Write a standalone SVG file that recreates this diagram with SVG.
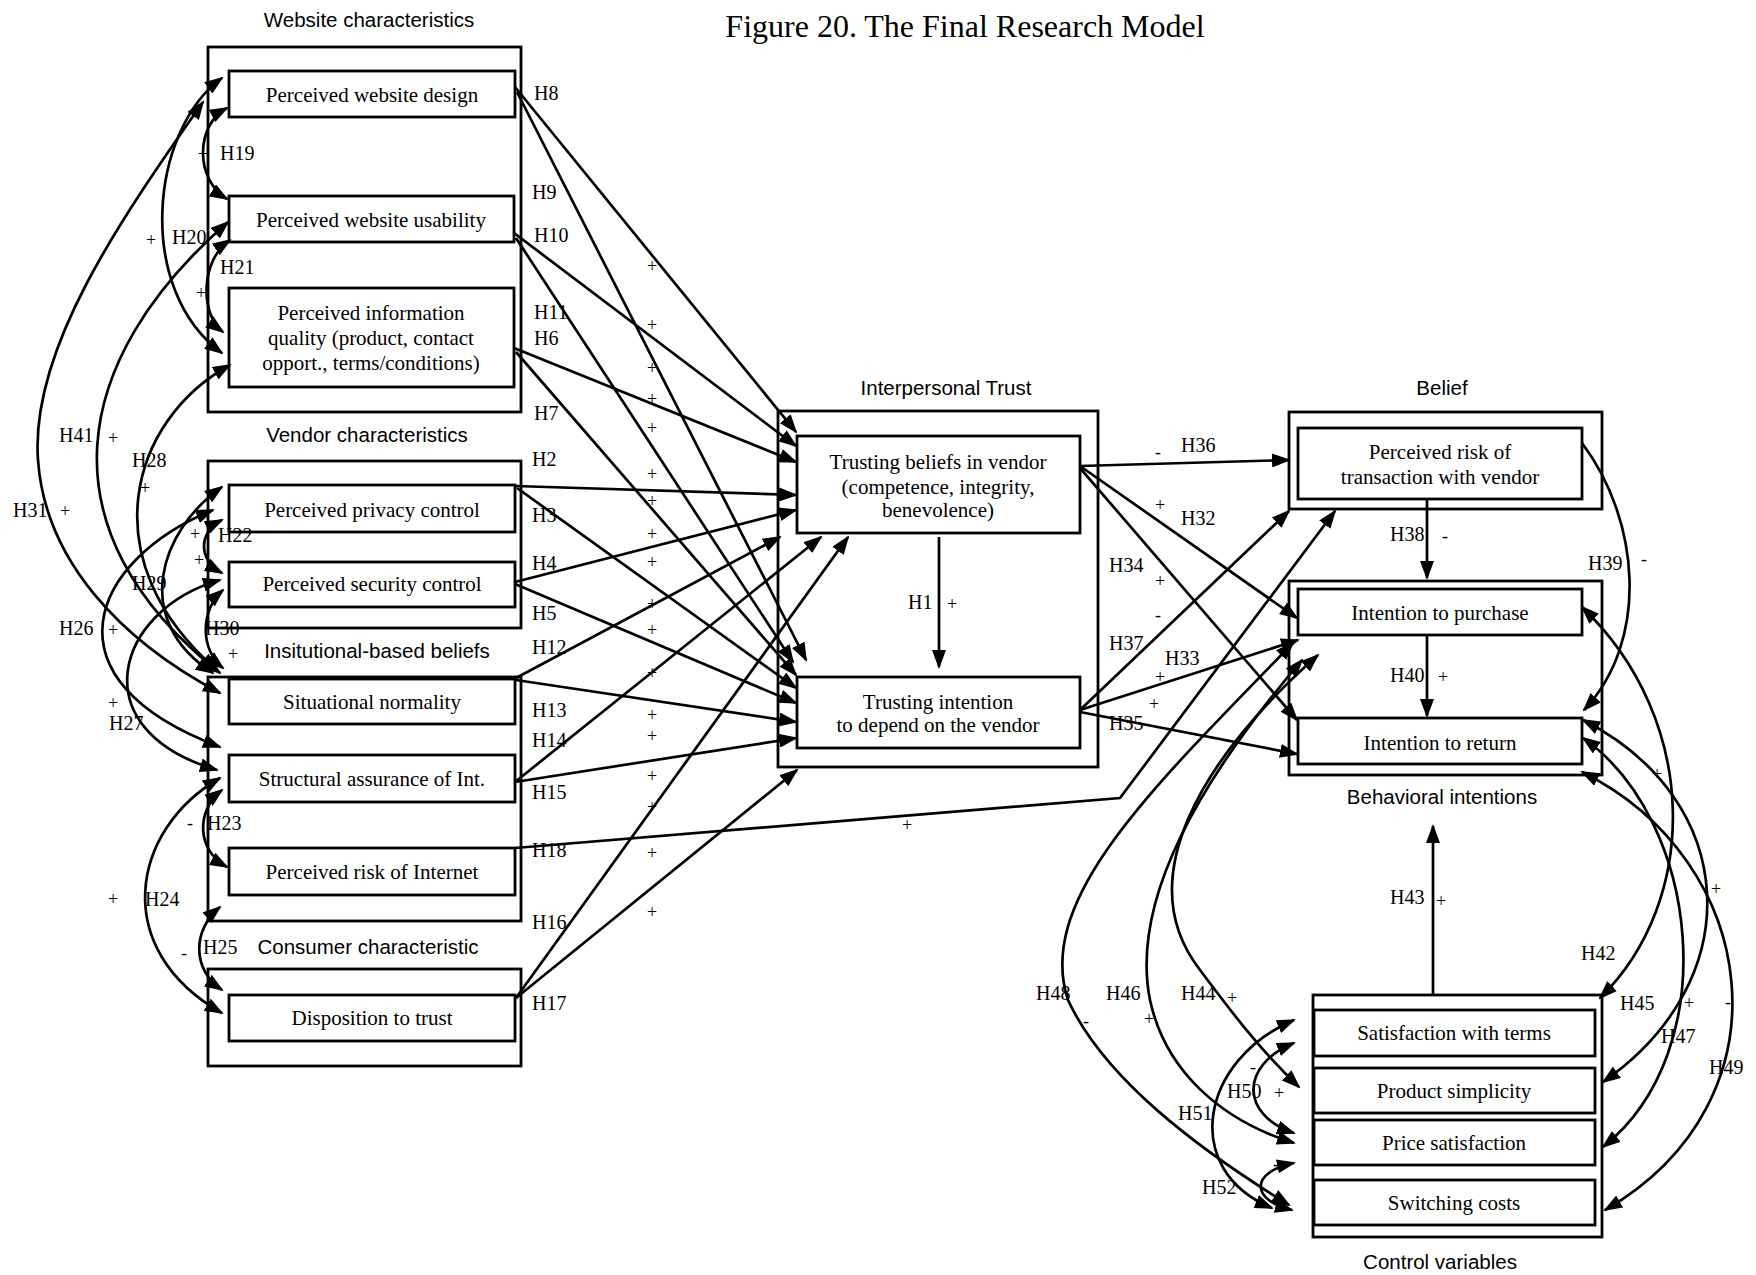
<svg xmlns="http://www.w3.org/2000/svg" width="1756" height="1275" viewBox="0 0 1756 1275">
  <style>
    .frame { fill: none; stroke: #000; stroke-width: 2.8; }
    .box { fill: none; stroke: #000; stroke-width: 2.8; }
    .nt { font-family: "Liberation Serif", "Times New Roman", serif; font-size: 21px; fill: #000; text-anchor: middle; }
    .sec { font-family: "Liberation Sans", Arial, sans-serif; font-size: 20.5px; fill: #000; text-anchor: middle; }
    .lb { font-family: "Liberation Serif", "Times New Roman", serif; font-size: 20px; fill: #000; }
    .sg { font-family: "Liberation Serif", "Times New Roman", serif; font-size: 18px; fill: #000; text-anchor: middle; }
    .ln { fill: none; stroke: #000; stroke-width: 2.7; marker-end: url(#ah); }
    .bi { fill: none; stroke: #000; stroke-width: 2.7; marker-start: url(#ah); marker-end: url(#ah); }
    .title { font-family: "Liberation Serif", "Times New Roman", serif; font-size: 32px; fill: #000; text-anchor: middle; }
  </style>
  <defs>
    <marker id="ah" viewBox="0 0 19 14" refX="17" refY="7" markerWidth="19" markerHeight="14" markerUnits="userSpaceOnUse" orient="auto-start-reverse">
      <path d="M0,0 L19,7 L0,14 z" fill="#000"/>
    </marker>
  </defs>
  <rect width="1756" height="1275" fill="#fff"/>

  <text class="title" x="965" y="37">Figure 20. The Final Research Model</text>

  <!-- group frames and their captions -->
  <g id="website-characteristics">
    <text class="sec" x="369" y="27">Website characteristics</text>
    <rect class="frame" x="208" y="47" width="313" height="365"/>
  </g>
  <g id="vendor-characteristics">
    <text class="sec" x="367" y="442">Vendor characteristics</text>
    <rect class="frame" x="208" y="461" width="313" height="167"/>
  </g>
  <g id="institutional-beliefs">
    <text class="sec" x="377" y="658">Insitutional-based beliefs</text>
    <rect class="frame" x="208" y="677" width="313" height="244"/>
  </g>
  <g id="consumer-characteristic">
    <text class="sec" x="368" y="954">Consumer characteristic</text>
    <rect class="frame" x="208" y="969" width="313" height="97"/>
  </g>
  <g id="interpersonal-trust">
    <text class="sec" x="946" y="395">Interpersonal Trust</text>
    <rect class="frame" x="778" y="411" width="320" height="356"/>
  </g>
  <g id="belief">
    <text class="sec" x="1442" y="395">Belief</text>
    <rect class="frame" x="1289" y="412" width="313" height="97"/>
  </g>
  <g id="behavioral-intentions">
    <text class="sec" x="1442" y="804">Behavioral intentions</text>
    <rect class="frame" x="1289" y="581" width="313" height="194"/>
  </g>
  <g id="control-variables">
    <text class="sec" x="1440" y="1269">Control variables</text>
    <rect class="frame" x="1313" y="995" width="289" height="242"/>
  </g>

  <!-- constructs -->
  <g id="website-design">
    <rect class="box" x="229" y="71" width="286" height="46"/>
    <text class="nt" x="372" y="102">Perceived website design</text>
  </g>
  <g id="website-usability">
    <rect class="box" x="229" y="196" width="285" height="46"/>
    <text class="nt" x="371" y="227">Perceived website usability</text>
  </g>
  <g id="information-quality">
    <rect class="box" x="229" y="288" width="285" height="99"/>
    <text class="nt" x="371" y="320">Perceived information</text>
    <text class="nt" x="371" y="345">quality (product,  contact</text>
    <text class="nt" x="371" y="370">opport.,  terms/conditions)</text>
  </g>
  <g id="privacy-control">
    <rect class="box" x="229" y="485" width="286" height="47"/>
    <text class="nt" x="372" y="517">Perceived privacy control</text>
  </g>
  <g id="security-control">
    <rect class="box" x="229" y="562" width="286" height="45"/>
    <text class="nt" x="372" y="591">Perceived security control</text>
  </g>
  <g id="situational-normality">
    <rect class="box" x="229" y="679" width="286" height="45"/>
    <text class="nt" x="372" y="709">Situational normality</text>
  </g>
  <g id="structural-assurance">
    <rect class="box" x="229" y="755" width="286" height="47"/>
    <text class="nt" x="372" y="786">Structural assurance of Int.</text>
  </g>
  <g id="risk-internet">
    <rect class="box" x="229" y="848" width="286" height="47"/>
    <text class="nt" x="372" y="879">Perceived risk of Internet</text>
  </g>
  <g id="disposition-trust">
    <rect class="box" x="229" y="995" width="286" height="46"/>
    <text class="nt" x="372" y="1025">Disposition to trust</text>
  </g>
  <g id="trusting-beliefs">
    <rect class="box" x="797" y="436" width="283" height="97"/>
    <text class="nt" x="938" y="469">Trusting beliefs in vendor</text>
    <text class="nt" x="938" y="494">(competence, integrity,</text>
    <text class="nt" x="938" y="517">benevolence)</text>
  </g>
  <g id="trusting-intention">
    <rect class="box" x="797" y="677" width="283" height="71"/>
    <text class="nt" x="938" y="709">Trusting intention</text>
    <text class="nt" x="938" y="732">to depend on the vendor</text>
  </g>
  <g id="risk-transaction">
    <rect class="box" x="1298" y="428" width="284" height="71"/>
    <text class="nt" x="1440" y="459">Perceived risk of</text>
    <text class="nt" x="1440" y="484">transaction with vendor</text>
  </g>
  <g id="intention-purchase">
    <rect class="box" x="1298" y="589" width="284" height="46"/>
    <text class="nt" x="1440" y="620">Intention to purchase</text>
  </g>
  <g id="intention-return">
    <rect class="box" x="1298" y="718" width="284" height="46"/>
    <text class="nt" x="1440" y="750">Intention to return</text>
  </g>
  <g id="satisfaction-terms">
    <rect class="box" x="1314" y="1010" width="281" height="46"/>
    <text class="nt" x="1454" y="1040">Satisfaction with terms</text>
  </g>
  <g id="product-simplicity">
    <rect class="box" x="1314" y="1068" width="281" height="45"/>
    <text class="nt" x="1454" y="1098">Product simplicity</text>
  </g>
  <g id="price-satisfaction">
    <rect class="box" x="1314" y="1120" width="281" height="45"/>
    <text class="nt" x="1454" y="1150">Price satisfaction</text>
  </g>
  <g id="switching-costs">
    <rect class="box" x="1314" y="1180" width="281" height="45"/>
    <text class="nt" x="1454" y="1210">Switching costs</text>
  </g>

  <!-- paths between constructs -->
  <g id="connectors">
    <!-- antecedents to trusting beliefs / trusting intention -->
    <path class="ln" d="M515,87 L796,432"/>
    <path class="ln" d="M517,92 L806,660"/>
    <path class="ln" d="M514,233 L796,446"/>
    <path class="ln" d="M516,238 L793,662"/>
    <path class="ln" d="M514,348 L796,462"/>
    <path class="ln" d="M516,352 L796,675"/>
    <path class="ln" d="M515,486 L796,495"/>
    <path class="ln" d="M517,488 L796,688"/>
    <path class="ln" d="M515,582 L796,510"/>
    <path class="ln" d="M515,584 L796,703"/>
    <path class="ln" d="M516,678 L780,537"/>
    <path class="ln" d="M516,680 L796,722"/>
    <path class="ln" d="M515,782 L821,537"/>
    <path class="ln" d="M515,782 L796,738"/>
    <path class="ln" d="M516,998 L848,537"/>
    <path class="ln" d="M516,998 L797,770"/>
    <path class="ln" d="M515,848 L1120,798 L1335,511"/>
    <path class="ln" d="M939,537 L939,667"/>

    <!-- trust to belief and intentions -->
    <path class="ln" d="M1080,466 L1289,460"/>
    <path class="ln" d="M1080,466 L1297,618"/>
    <path class="ln" d="M1080,468 L1297,720"/>
    <path class="ln" d="M1080,710 L1289,511"/>
    <path class="ln" d="M1080,710 L1298,640"/>
    <path class="ln" d="M1080,712 L1297,754"/>
    <path class="ln" d="M1427,500 L1427,578"/>
    <path class="ln" d="M1427,636 L1427,716"/>
    <path class="ln" d="M1433,995 L1433,826"/>
    <path class="ln" d="M1582,443 C1640,520 1650,640 1584,710"/>

    <!-- correlations among antecedents -->
    <path class="bi" d="M227,108 C195,125 195,180 227,199"/>
    <path class="bi" d="M222,78 C150,130 135,290 222,353"/>
    <path class="bi" d="M230,240 C200,260 200,315 223,332"/>
    <path class="bi" d="M228,222 C70,360 40,530 220,673"/>
    <path class="bi" d="M203,102 C120,220 30,350 38,460 C45,560 120,640 220,693"/>
    <path class="bi" d="M230,365 C130,420 90,560 217,670"/>
    <path class="bi" d="M222,487 C160,530 130,620 213,673"/>
    <path class="bi" d="M213,510 C90,560 40,680 220,747"/>
    <path class="bi" d="M220,580 C115,610 80,730 217,770"/>
    <path class="bi" d="M222,520 C198,532 198,560 222,573"/>
    <path class="bi" d="M223,590 C200,610 200,650 223,668"/>
    <path class="bi" d="M222,790 C196,810 196,850 227,867"/>
    <path class="bi" d="M220,778 C130,830 110,950 222,1013"/>
    <path class="bi" d="M220,907 C192,930 192,970 222,990"/>

    <!-- control variables -->
    <path class="bi" d="M1582,607 C1700,720 1700,900 1600,998"/>
    <path class="bi" d="M1583,720 C1740,800 1750,980 1603,1082"/>
    <path class="bi" d="M1583,738 C1700,820 1725,1050 1603,1147"/>
    <path class="bi" d="M1582,772 C1760,860 1795,1100 1605,1210"/>
    <path class="bi" d="M1293,643 C1150,790 1035,900 1068,1000 C1105,1080 1200,1150 1289,1205"/>
    <path class="bi" d="M1302,660 C1200,780 1130,900 1150,1000 C1165,1070 1220,1120 1294,1143"/>
    <path class="bi" d="M1318,655 C1200,760 1130,880 1200,970 C1230,1010 1260,1050 1299,1087"/>
    <path class="bi" d="M1294,1043 C1240,1065 1240,1115 1294,1133"/>
    <path class="bi" d="M1294,1020 C1200,1060 1180,1170 1272,1208"/>
    <path class="bi" d="M1294,1163 C1250,1172 1250,1200 1292,1210"/>
  </g>

  <!-- hypothesis labels -->
  <g id="labels">
    <text class="lb" x="534" y="100">H8</text>
    <text class="lb" x="532" y="199">H9</text>
    <text class="lb" x="534" y="242">H10</text>
    <text class="lb" x="534" y="319">H11</text>
    <text class="lb" x="534" y="345">H6</text>
    <text class="lb" x="534" y="420">H7</text>
    <text class="lb" x="532" y="466">H2</text>
    <text class="lb" x="532" y="522">H3</text>
    <text class="lb" x="532" y="570">H4</text>
    <text class="lb" x="532" y="620">H5</text>
    <text class="lb" x="532" y="654">H12</text>
    <text class="lb" x="532" y="717">H13</text>
    <text class="lb" x="532" y="747">H14</text>
    <text class="lb" x="532" y="799">H15</text>
    <text class="lb" x="532" y="857">H18</text>
    <text class="lb" x="532" y="929">H16</text>
    <text class="lb" x="532" y="1010">H17</text>
    <text class="lb" x="908" y="609">H1</text>
    <text class="sg" x="952" y="610">+</text>

    <text class="sg" x="652" y="272">+</text>
    <text class="sg" x="652" y="331">+</text>
    <text class="sg" x="652" y="374">+</text>
    <text class="sg" x="652" y="405">+</text>
    <text class="sg" x="652" y="434">+</text>
    <text class="sg" x="652" y="480">+</text>
    <text class="sg" x="652" y="507">+</text>
    <text class="sg" x="652" y="540">+</text>
    <text class="sg" x="652" y="568">+</text>
    <text class="sg" x="652" y="610">+</text>
    <text class="sg" x="652" y="636">+</text>
    <text class="sg" x="652" y="679">+</text>
    <text class="sg" x="652" y="721">+</text>
    <text class="sg" x="652" y="742">+</text>
    <text class="sg" x="652" y="782">+</text>
    <text class="sg" x="652" y="813">+</text>
    <text class="sg" x="652" y="859">+</text>
    <text class="sg" x="652" y="918">+</text>
    <text class="sg" x="907" y="831">+</text>

    <text class="sg" x="203" y="160">+</text>
    <text class="lb" x="220" y="160">H19</text>
    <text class="sg" x="151" y="246">+</text>
    <text class="lb" x="172" y="244">H20</text>
    <text class="lb" x="220" y="274">H21</text>
    <text class="sg" x="201" y="299">+</text>
    <text class="lb" x="59" y="442">H41</text>
    <text class="sg" x="113" y="444">+</text>
    <text class="lb" x="132" y="467">H28</text>
    <text class="sg" x="145" y="494">+</text>
    <text class="lb" x="13" y="517">H31</text>
    <text class="sg" x="65" y="517">+</text>
    <text class="sg" x="195" y="540">+</text>
    <text class="lb" x="218" y="542">H22</text>
    <text class="sg" x="199" y="566">+</text>
    <text class="lb" x="132" y="590">H29</text>
    <text class="lb" x="59" y="635">H26</text>
    <text class="sg" x="113" y="636">+</text>
    <text class="lb" x="205" y="635">H30</text>
    <text class="sg" x="233" y="660">+</text>
    <text class="sg" x="113" y="709">+</text>
    <text class="lb" x="109" y="730">H27</text>
    <text class="sg" x="190" y="829">-</text>
    <text class="lb" x="207" y="830">H23</text>
    <text class="sg" x="113" y="905">+</text>
    <text class="lb" x="145" y="906">H24</text>
    <text class="sg" x="184" y="959">-</text>
    <text class="lb" x="203" y="954">H25</text>

    <text class="sg" x="1158" y="458">-</text>
    <text class="lb" x="1181" y="452">H36</text>
    <text class="sg" x="1160" y="511">+</text>
    <text class="lb" x="1181" y="525">H32</text>
    <text class="lb" x="1109" y="572">H34</text>
    <text class="sg" x="1160" y="587">+</text>
    <text class="sg" x="1158" y="621">-</text>
    <text class="lb" x="1109" y="650">H37</text>
    <text class="lb" x="1165" y="665">H33</text>
    <text class="sg" x="1160" y="683">+</text>
    <text class="sg" x="1154" y="710">+</text>
    <text class="lb" x="1109" y="730">H35</text>
    <text class="lb" x="1390" y="541">H38</text>
    <text class="sg" x="1445" y="542">-</text>
    <text class="lb" x="1588" y="570">H39</text>
    <text class="sg" x="1644" y="565">-</text>
    <text class="lb" x="1390" y="682">H40</text>
    <text class="sg" x="1443" y="683">+</text>
    <text class="sg" x="1657" y="780">+</text>
    <text class="lb" x="1390" y="904">H43</text>
    <text class="sg" x="1441" y="907">+</text>
    <text class="lb" x="1581" y="960">H42</text>
    <text class="sg" x="1716" y="895">+</text>
    <text class="lb" x="1036" y="1000">H48</text>
    <text class="sg" x="1086" y="1027">-</text>
    <text class="lb" x="1106" y="1000">H46</text>
    <text class="sg" x="1149" y="1025">+</text>
    <text class="lb" x="1181" y="1000">H44</text>
    <text class="sg" x="1232" y="1004">+</text>
    <text class="lb" x="1620" y="1010">H45</text>
    <text class="sg" x="1689" y="1009">+</text>
    <text class="sg" x="1728" y="1008">-</text>
    <text class="lb" x="1661" y="1043">H47</text>
    <text class="lb" x="1709" y="1074">H49</text>
    <text class="sg" x="1253" y="1073">-</text>
    <text class="lb" x="1227" y="1098">H50</text>
    <text class="sg" x="1279" y="1099">+</text>
    <text class="lb" x="1178" y="1120">H51</text>
    <text class="sg" x="1276" y="1170">-</text>
    <text class="lb" x="1202" y="1194">H52</text>
  </g>
</svg>
